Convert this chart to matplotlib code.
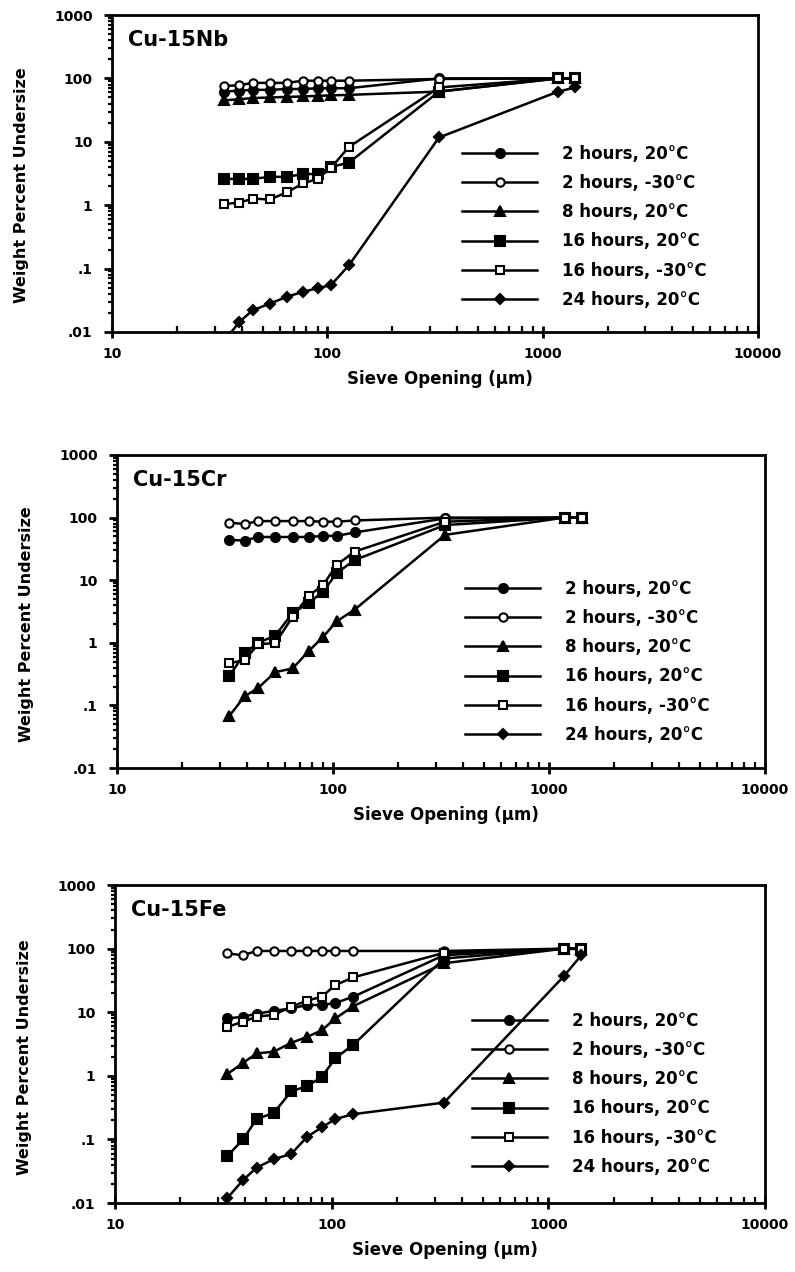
import matplotlib
matplotlib.use("Agg")
import matplotlib.pyplot as plt
from matplotlib.lines import Line2D
from matplotlib.ticker import LogLocator, FixedLocator, FixedFormatter, NullFormatter

plt.rcParams["font.family"] = ["DejaVu Sans"]
plt.rcParams["font.weight"] = "bold"

# sieve openings (um)
sieve = [33, 39, 45, 54, 65, 77, 90, 104, 126, 330, 1180, 1420]

labels = ["2 hours, 20\u00b0C", "2 hours, -30\u00b0C", "8 hours, 20\u00b0C",
          "16 hours, 20\u00b0C", "16 hours, -30\u00b0C", "24 hours, 20\u00b0C"]

# Cu-15Nb
nb_2h_20 = [62, 64, 66, 66, 68, 68, 70, 70, 70, 100, 100, 100]
nb_2h_m30 = [76, 78, 85, 85, 85, 92, 92, 92, 92, 98, 100, 100]
nb_8h_20 = [45, 47, 49, 50, 51, 52, 53, 54, 55, 62, 100, 100]
nb_16h_20 = [2.6, 2.6, 2.6, 2.8, 2.8, 3.1, 3.1, 4.0, 4.7, 62, 100, 100]
nb_16h_m30 = [1.04, 1.1, 1.27, 1.23, 1.6, 2.2, 2.6, 3.9, 8.3, 72, 100, 100]
nb_24h_20 = [0.007, 0.0144, 0.022, 0.028, 0.036, 0.043, 0.049, 0.055, 0.113, 11.7, 62, 72]

# Cu-15Cr
cr_2h_20 = [44, 43, 49, 49, 49, 49, 51, 51, 58, 97, 100, 100]
cr_2h_m30 = [83, 79, 88, 88, 88, 88, 86, 86, 90, 100, 100, 100]
cr_8h_20 = [0.067, 0.14, 0.19, 0.34, 0.39, 0.73, 1.25, 2.2, 3.4, 53, 100, 100]
cr_16h_20 = [0.29, 0.68, 1.0, 1.3, 3.0, 4.3, 6.6, 13, 21, 76, 100, 100]
cr_16h_m30 = [0.47, 0.53, 0.95, 0.99, 2.6, 5.6, 8.4, 17.6, 28.7, 86, 100, 100]

# Cu-15Fe
fe_2h_20 = [8.0, 8.5, 9.5, 10.5, 11.5, 13, 13, 14, 17.6, 79, 100, 100]
fe_2h_m30 = [84, 79, 92, 92, 92, 92, 92, 92, 92, 92, 100, 100]
fe_8h_20 = [1.07, 1.6, 2.25, 2.4, 3.3, 4.1, 5.2, 8.0, 12.5, 59, 100, 100]
fe_16h_20 = [0.055, 0.10, 0.21, 0.26, 0.57, 0.69, 0.96, 1.9, 3.1, 70, 100, 100]
fe_16h_m30 = [5.9, 7.1, 8.5, 9.1, 12.2, 15.2, 17.6, 26.8, 35.4, 86, 98, 100]
fe_24h_20 = [0.012, 0.023, 0.036, 0.049, 0.059, 0.11, 0.155, 0.21, 0.25, 0.38, 37, 79]

# marker style per legend entry: (marker, face colour, size)
styles = [("o", "k", 6.5), ("o", "w", 6), ("^", "k", 7), ("s", "k", 6.5),
          ("s", "w", 6), ("D", "k", 5.5)]

panels = [
    ("Cu-15Nb", [nb_2h_20, nb_2h_m30, nb_8h_20, nb_16h_20, nb_16h_m30, nb_24h_20],
     [0.1409, 0.739, 0.8126, 0.2492], (0.542, 0.590), 0.464),
    ("Cu-15Cr", [cr_2h_20, cr_2h_m30, cr_8h_20, cr_16h_20, cr_16h_m30, None],
     [0.1472, 0.3962, 0.8151, 0.2461], (0.537, 0.601), 0.46),
    ("Cu-15Fe", [fe_2h_20, fe_2h_m30, fe_8h_20, fe_16h_20, fe_16h_m30, fe_24h_20],
     [0.1447, 0.0542, 0.8176, 0.2500], (0.549, 0.601), 0.46),
]

fig = plt.figure(figsize=(7.95, 12.72), dpi=100)

for title, series, rect, leg_pos, ylab_y in panels:
    ax = fig.add_axes(rect)
    ax.set_xscale("log")
    ax.set_yscale("log")
    ax.set_xlim(10, 10000)
    ax.set_ylim(0.01, 1000)

    for vals, (mk, fc, ms) in zip(series, styles):
        if vals is None:
            continue
        ax.plot(sieve, vals, color="k", lw=1.8, marker=mk, ms=ms,
                mfc=fc, mec="k", mew=1.5, zorder=3)

    handles = [Line2D([], [], color="k", lw=1.8, marker=mk, ms=ms, mfc=fc,
                      mec="k", mew=1.5) for mk, fc, ms in styles]
    ax.legend(handles, labels, loc="upper left", bbox_to_anchor=leg_pos,
              frameon=False, fontsize=12, handlelength=4.5, handletextpad=1.5,
              labelspacing=0.67, borderpad=0, borderaxespad=0, numpoints=1)

    ax.text(0.025, 0.921, title, transform=ax.transAxes, fontsize=15,
            fontweight="bold", va="center", ha="left")

    for sp in ax.spines.values():
        sp.set_linewidth(2.0)

    ax.xaxis.set_major_locator(FixedLocator([10, 100, 1000, 10000]))
    ax.xaxis.set_major_formatter(FixedFormatter(["10", "100", "1000", "10000"]))
    ax.xaxis.set_minor_locator(LogLocator(base=10, subs=range(2, 10)))
    ax.xaxis.set_minor_formatter(NullFormatter())
    ax.yaxis.set_major_locator(FixedLocator([0.01, 0.1, 1, 10, 100, 1000]))
    ax.yaxis.set_major_formatter(FixedFormatter([".01", ".1", "1", "10", "100", "1000"]))
    ax.yaxis.set_minor_locator(LogLocator(base=10, subs=range(2, 10)))
    ax.yaxis.set_minor_formatter(NullFormatter())

    ax.tick_params(axis="x", which="major", direction="inout", length=9, width=2,
                   pad=6, labelsize=10)
    ax.tick_params(axis="x", which="minor", direction="in", length=4, width=1.6)
    ax.tick_params(axis="y", which="major", direction="out", length=6, width=2,
                   pad=8, labelsize=10)
    ax.tick_params(axis="y", which="minor", direction="out", length=3, width=1.6)

    ax.set_xlabel("Sieve Opening (\u03bcm)", fontsize=12, fontweight="bold")
    ax.set_ylabel("Weight Percent Undersize", fontsize=11.5, fontweight="bold")
    ax.xaxis.set_label_coords(0.508, -0.12)
    ax.yaxis.set_label_coords(-0.128, ylab_y)

fig.savefig("out.png", dpi=100)
